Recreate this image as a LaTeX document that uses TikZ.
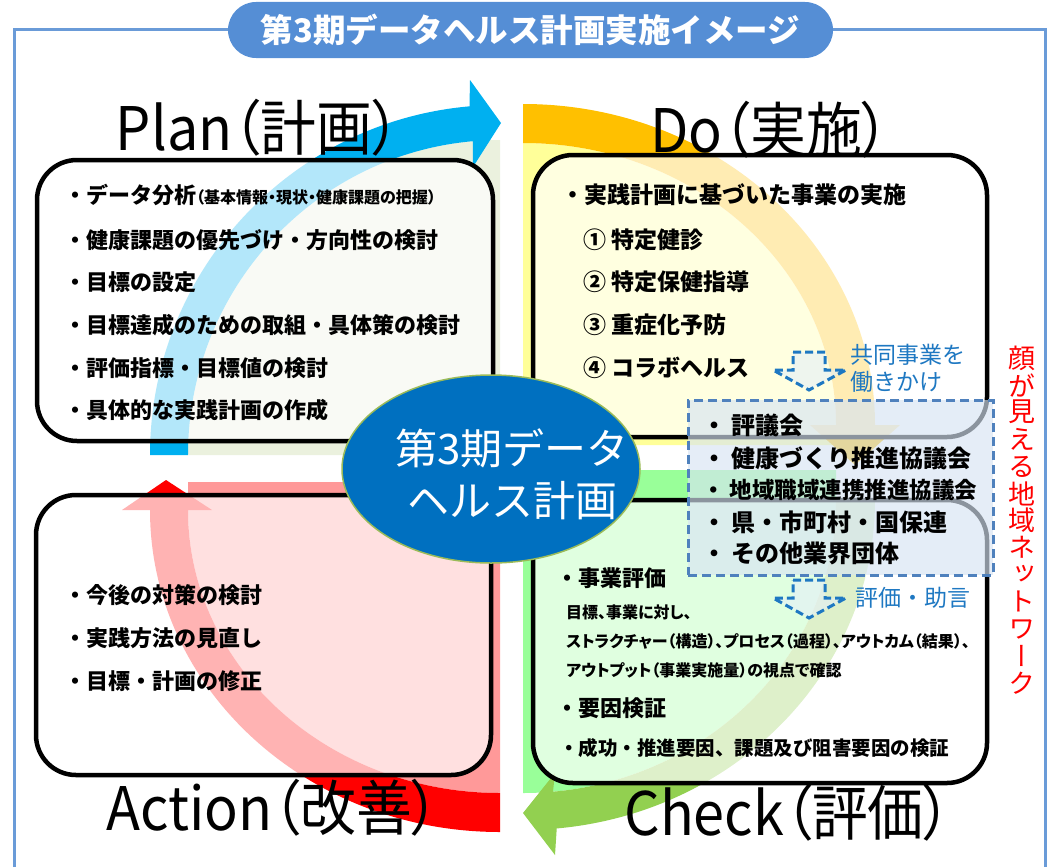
\documentclass[tikz,border=0pt]{standalone}
\usepackage{fontspec}
\setmainfont{Noto Sans CJK JP}
\newfontfamily\vjp{Noto Sans CJK JP}[RawFeature=+vert]
\newfontfamily\hjp{Noto Sans CJK JP}[RawFeature=+palt]
\usetikzlibrary{shapes.geometric}

\definecolor{framecol}{HTML}{6A9BD8}
\definecolor{titlecol}{HTML}{558ED5}
\definecolor{plancol}{HTML}{00B0F0}
\definecolor{planbg}{HTML}{EBF1DE}
\definecolor{docol}{HTML}{FFC000}
\definecolor{dobg}{HTML}{FFFF99}
\definecolor{checkcol}{HTML}{92D050}
\definecolor{checkbg}{HTML}{99FF99}
\definecolor{actcol}{HTML}{FF0000}
\definecolor{actbg}{HTML}{FF9999}
\definecolor{hubcol}{HTML}{0070C0}
\definecolor{hubedge}{HTML}{9BBB59}
\definecolor{netedge}{HTML}{4F81BD}
\definecolor{netfill}{HTML}{D7E4F3}
\definecolor{hintcol}{HTML}{1E78C2}

\begin{document}
\begin{tikzpicture}[x=1pt, y=1pt,
  phase/.style={inner sep=0pt, font=\hjp\fontsize{60}{66}\selectfont, xscale=0.93},
  pdca/.style={draw, line width=4.5pt, rounded corners=40pt, fill=white, fill opacity=0.7},
  item/.style={anchor=west, inner sep=0pt, font=\bfseries\fontsize{22}{26}\selectfont},
  note/.style={anchor=west, inner sep=0pt, font=\hjp\bfseries\fontsize{16}{18}\selectfont},
  hint/.style={anchor=west, inner sep=0pt, align=left, text=hintcol, font=\fontsize{23}{27}\selectfont},
  downarrow/.pic={\draw[hintcol, line width=3pt, dash pattern=on 8pt off 4pt, fill=hintcol!12, fill opacity=0.6]
    (-16,0) -- (16,0) -- (16,-18) -- (37,-18) -- (0,-38) -- (-36,-18) -- (-16,-18) -- cycle;}]
\useasboundingbox (0,0) rectangle (1048,-867);

% frame and title
\draw[framecol, line width=3pt] (14,-867) -- (14,-30) -- (1045,-30) -- (1045,-867);
\node (title) [fill=titlecol, rounded corners=28pt, minimum width=605pt, minimum height=56pt,
  text=white, font=\bfseries\fontsize{32.5}{35}\selectfont] at (530.5,-30) {第3期データヘルス計画実施イメージ};

% quadrants
\fill[planbg] (500,-455) -- (188,-455) arc[start angle=180, end angle=90, x radius=312, y radius=315] -- cycle;
\fill[dobg] (523,-445) -- (523,-143) arc[start angle=90, end angle=0, x radius=313, y radius=282] -- (836,-445) -- cycle;
\fill[checkbg] (523,-470) -- (836,-470) -- (836,-500) arc[start angle=0, end angle=-90, x radius=313, y radius=293] -- cycle;
\fill[actbg] (500,-482) -- (188,-482) -- (188,-510) arc[start angle=180, end angle=270, x radius=312, y radius=283] -- cycle;

% cycle arrows
\fill[plancol] (150,-455) arc[start angle=180, end angle=95, x radius=350, y radius=350]
  -- (470,-80) -- (501,-123) -- (473,-167) -- (472.8,-141.2)
  arc[start angle=95, end angle=180, x radius=312, y radius=315] -- cycle;
\fill[docol] (523,-104) arc[start angle=90, end angle=0, x radius=352, y radius=321]
  -- (900,-425) -- (855,-465) -- (810,-425) -- (836,-425)
  arc[start angle=0, end angle=90, x radius=313, y radius=282] -- cycle;
\fill[checkcol] (875,-500) arc[start angle=0, end angle=-84.5, x radius=352, y radius=330]
  -- (555,-855) -- (523,-813) -- (555,-773) -- (553,-791.7)
  arc[start angle=-84.5, end angle=0, x radius=313, y radius=293] -- cycle;
\fill[actcol] (500,-832) arc[start angle=-90, end angle=-180, x radius=350, y radius=322]
  -- (122,-510) -- (166,-480) -- (212,-510) -- (188,-510)
  arc[start angle=180, end angle=270, x radius=312, y radius=283] -- cycle;

% boxes
\node (planbox) [pdca, minimum width=456pt, minimum height=281pt] at (265,-300.5) {};
\node (dobox) [pdca, minimum width=454pt, minimum height=282pt] at (760,-296) {};
\node (checkbox) [pdca, minimum width=454pt, minimum height=283pt] at (760,-641.5) {};
\node (actbox) [pdca, minimum width=455pt, minimum height=280pt] at (263.5,-635) {};

% network
\node (netbox) [draw=netedge, line width=3pt, dash pattern=on 9pt off 5pt, fill=netfill, fill opacity=0.65,
  minimum width=305pt, minimum height=175pt] at (840.5,-487.5) {};
\pic at (809,-352) {downarrow};
\pic at (809,-580) {downarrow};
\node (push) [hint] at (850,-368) {共同事業を\\働きかけ};
\node (advice) [hint] at (855,-598) {評価・助言};

% hub
\node (hub) [ellipse, fill=hubcol, draw=hubedge, line width=1.5pt, minimum width=298pt, minimum height=188pt] at (491,-469) {};
\node (hubtext) [align=center, text=white, inner sep=0pt, font=\fontsize{42}{52}\selectfont] at (512,-474) {第3期データ\\ヘルス計画};

% phase titles
\node (plan) [phase] at (258,-128) {Plan（計画）};
\node (do) [phase] at (770,-130) {Do（実施）};
\node (act) [phase] at (273,-808) {Action（改善）};
\node (check) [phase] at (788,-813) {Check（評価）};

% plan
\node (plan1) [item] at (64,-195) {・データ分析{\hjp\fontsize{16}{18}\selectfont（基本情報・現状・健康課題の把握）}};
\node (plan2) [item] at (64,-240) {・健康課題の優先づけ・方向性の検討};
\node (plan3) [item] at (64,-282) {・目標の設定};
\node (plan4) [item] at (64,-325) {・目標達成のための取組・具体策の検討};
\node (plan5) [item] at (64,-368) {・評価指標・目標値の検討};
\node (plan6) [item] at (64,-410) {・具体的な実践計画の作成};

% do
\node (do1) [item, font=\bfseries\fontsize{23}{27}\selectfont] at (561,-195) {・実践計画に基づいた事業の実施};
\node (do2) [item, font=\bfseries\fontsize{23}{27}\selectfont] at (583,-240) {① 特定健診};
\node (do3) [item, font=\bfseries\fontsize{23}{27}\selectfont] at (583,-282) {② 特定保健指導};
\node (do4) [item, font=\bfseries\fontsize{23}{27}\selectfont] at (583,-325) {③ 重症化予防};
\node (do5) [item, font=\bfseries\fontsize{23}{27}\selectfont] at (583,-368) {④ コラボヘルス};

% network members
\node (net1) [item, font=\bfseries\fontsize{24}{28}\selectfont] at (702,-425) {・ 評議会};
\node (net2) [item, font=\bfseries\fontsize{24}{28}\selectfont] at (702,-458) {・ 健康づくり推進協議会};
\node (net3) [item, font=\bfseries\fontsize{22.5}{26}\selectfont] at (702,-490) {・ 地域職域連携推進協議会};
\node (net4) [item, font=\bfseries\fontsize{24}{28}\selectfont] at (702,-522) {・ 県・市町村・国保連};
\node (net5) [item, font=\bfseries\fontsize{24}{28}\selectfont] at (702,-553) {・ その他業界団体};

% check
\node (chk1) [item] at (556,-578) {・事業評価};
\node (chk2) [note] at (566,-612) {目標、事業に対し、};
\node (chk3) [note] at (566,-641) {ストラクチャー（構造）、プロセス（過程）、アウトカム（結果）、};
\node (chk4) [note] at (566,-670) {アウトプット（事業実施量）の視点で確認};
\node (chk5) [item] at (556,-708) {・要因検証};
\node (chk6) [item, font=\bfseries\fontsize{19.5}{23}\selectfont] at (559,-748) {・成功・推進要因、課題及び阻害要因の検証};

% action
\node (act1) [item] at (64,-595) {・今後の対策の検討};
\node (act2) [item] at (64,-638) {・実践方法の見直し};
\node (act3) [item] at (64,-681) {・目標・計画の修正};

% vertical caption
\foreach \ch [count=\i] in {顔,が,見,え,る,地,域,ネ,ッ,ト,ワ,ー,ク}
  \node (face\i) [inner sep=0pt, text=actcol, font=\vjp\fontsize{27}{29}\selectfont] at (1022,{-358-27.1*(\i-1)}) {\ch};
\end{tikzpicture}
\end{document}
